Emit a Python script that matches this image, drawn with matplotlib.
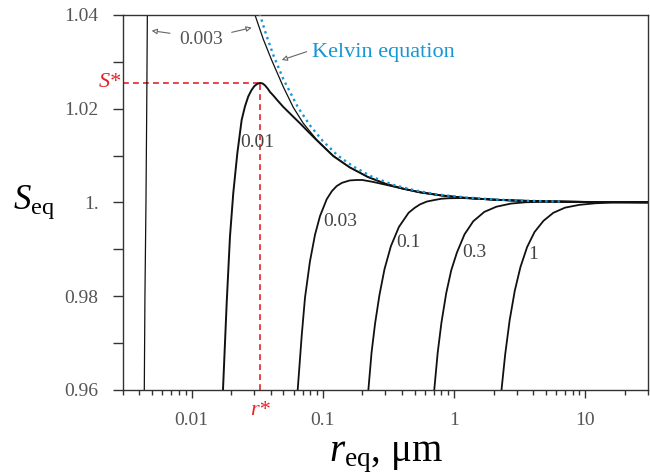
import matplotlib
matplotlib.use("Agg")
import matplotlib.pyplot as plt
from matplotlib.ticker import LogLocator, NullFormatter

plt.rcParams['font.family'] = 'Liberation Serif'
plt.rcParams['mathtext.fontset'] = 'custom'
plt.rcParams['mathtext.rm'] = 'Liberation Serif'
plt.rcParams['mathtext.it'] = 'Liberation Serif:italic'

# dry size 0.003 um - left (rising) branch
r_0003a = [0.00434, 0.00436, 0.00441, 0.00449, 0.00455, 0.00460, 0.00466]
s_0003a = [0.950, 0.960, 0.980, 1.000, 1.020, 1.040, 1.060]
# dry size 0.003 um - right branch (comes back in from the top)
r_0003b = [0.0290, 0.0304, 0.0352, 0.0407, 0.0499, 0.0595, 0.0709, 0.0897, 0.120, 0.160,
           0.220, 0.300, 0.400, 0.550, 0.800, 1.20, 2.0, 3.0, 5.0, 10.0, 30.0]
s_0003b = [1.0420, 1.0400, 1.0348, 1.0304, 1.0247, 1.0203, 1.0169, 1.0134, 1.0100, 1.0075,
           1.00545, 1.0040, 1.0030, 1.00218, 1.0015, 1.0010, 1.0006, 1.0004, 1.00024, 1.00012, 1.00004]
# 0.01 um
r_001 = [0.0170, 0.01734, 0.0185, 0.0196, 0.02077, 0.0223, 0.02406, 0.0255, 0.0270, 0.0285,
         0.0300, 0.0316, 0.0332, 0.0347, 0.0362, 0.0380, 0.0395, 0.0420, 0.0444, 0.0499,
         0.0580, 0.0669, 0.0780, 0.0897, 0.120, 0.160, 0.220, 0.300, 0.400, 0.550, 0.800,
         1.20, 2.0, 3.0, 5.0, 10.0, 30.0]
s_001 = [0.952, 0.960, 0.9785, 0.9927, 1.0020, 1.0105, 1.0176, 1.0205, 1.0226, 1.0239,
         1.0248, 1.0253, 1.0255, 1.0254, 1.0250, 1.0243, 1.0236, 1.0228, 1.0220, 1.0204,
         1.0186, 1.0169, 1.0150, 1.0133, 1.0099, 1.0075, 1.00545, 1.0040, 1.0030, 1.00218, 1.0015,
         1.0010, 1.0006, 1.0004, 1.00024, 1.00012, 1.00004]
# 0.03 um
r_003 = [0.0636, 0.0643, 0.0690, 0.0731, 0.0797, 0.0871, 0.0951, 0.107, 0.117, 0.1274,
         0.140, 0.160, 0.181, 0.200, 0.240, 0.300, 0.387, 0.550, 0.800, 1.20, 2.0, 3.0,
         5.0, 10.0, 30.0]
s_003 = [0.957, 0.960, 0.9716, 0.9797, 0.9874, 0.9931, 0.9971, 1.0007, 1.0024, 1.0035,
         1.0042, 1.0047, 1.0048, 1.0048, 1.0044, 1.0038, 1.0031, 1.00215, 1.0015, 1.0010,
         1.0006, 1.0004, 1.00024, 1.00012, 1.00004]
# 0.1 um
r_01 = [0.219, 0.222, 0.235, 0.250, 0.270, 0.295, 0.330, 0.380, 0.450, 0.500, 0.550, 0.620,
        0.700, 0.800, 0.900, 1.15, 1.50, 2.0, 3.0, 5.0, 10.0, 30.0]
s_01 = [0.9579, 0.9599, 0.9680, 0.9742, 0.9803, 0.9858, 0.9907, 0.9948, 0.9978, 0.99885,
        0.9996, 1.0002, 1.0005, 1.0008, 1.0009, 1.00095, 1.0008, 1.00062, 1.0004, 1.00024,
        1.00012, 1.00004]
# 0.3 um
r_03 = [0.700, 0.7057, 0.750, 0.800, 0.870, 0.950, 1.05, 1.20, 1.40, 1.70, 2.10, 2.70,
        3.50, 5.0, 8.0, 15.0, 30.0]
s_03 = [0.9589, 0.9600, 0.9680, 0.9743, 0.9806, 0.9855, 0.9893, 0.9932, 0.9960, 0.9980,
        0.9991, 0.99976, 1.00005, 1.00015, 1.00012, 1.00008, 1.00004]
# 1 um
r_1 = [2.28, 2.30, 2.45, 2.65, 2.90, 3.20, 3.60, 4.10, 4.80, 5.70, 7.0, 9.0, 12.0, 16.0, 22.0, 30.0]
s_1 = [0.9590, 0.9602, 0.9676, 0.9749, 0.9812, 0.9862, 0.9905, 0.9937, 0.9961, 0.9978,
       0.9989, 0.9995, 0.99984, 0.99997, 1.00001, 1.00002]
# Kelvin equation
r_kel = [0.0310, 0.0332, 0.0370, 0.0420, 0.0500, 0.0646, 0.0800, 0.100, 0.130, 0.170,
         0.240, 0.350, 0.500, 0.750, 1.20, 2.00, 3.50, 6.40]
s_kel = [1.0428, 1.0400, 1.0358, 1.0314, 1.0263, 1.0203, 1.0164, 1.0131, 1.0100, 1.0077,
         1.0054, 1.0037, 1.0026, 1.0017, 1.0011, 1.00065, 1.00037, 1.0002]

# critical point of the 0.01 um curve
r_star = 0.0332
s_star = 1.0255

xtick_vals = [0.01, 0.1, 1, 10]
xtick_labels = ['0.01', '0.1', '1', '10']
ytick_vals = [0.96, 0.98, 1.0, 1.02, 1.04]
ytick_labels = ['0.96', '0.98', '1.', '1.02', '1.04']
ytick_minor = [0.97, 0.99, 1.01, 1.03]

fig = plt.figure(figsize=(6.5, 4.76), dpi=100)
ax = fig.add_axes([0.1892, 0.1807, 0.8077, 0.7878])

black = '#111111'
ax.plot(r_0003a, s_0003a, color=black, lw=0.9)
ax.plot(r_0003b, s_0003b, color=black, lw=0.9)
ax.plot(r_001, s_001, color=black, lw=1.4)
ax.plot(r_003, s_003, color=black, lw=1.3)
ax.plot(r_01, s_01, color=black, lw=1.3)
ax.plot(r_03, s_03, color=black, lw=1.3)
ax.plot(r_1, s_1, color=black, lw=1.3)
ax.plot(r_kel, s_kel, color='#1497d4', lw=1.7, ls=(0, (1, 1.6)), zorder=3)

red = '#e52228'
ax.plot([0.003, r_star], [s_star, s_star], color=red, lw=1.2, ls=(0, (3.5, 2.5)), zorder=1)
ax.plot([r_star, r_star], [0.96, s_star], color=red, lw=1.2, ls=(0, (3.5, 2.5)), zorder=1)

ax.set_xscale('log')
ax.set_xlim(0.003, 30)
ax.set_ylim(0.96, 1.04)
ax.set_xticks(xtick_vals, xtick_labels)
ax.xaxis.set_minor_locator(LogLocator(base=10, subs=range(2, 10), numticks=20))
ax.xaxis.set_minor_formatter(NullFormatter())
ax.set_yticks(ytick_vals, ytick_labels)
ax.set_yticks(ytick_minor, minor=True)

for sp in ax.spines.values():
    sp.set_color('#333333')
    sp.set_linewidth(1.0)
ax.tick_params(which='both', direction='out', color='#333333', width=1.0,
               labelsize=14, labelcolor='#555555')
ax.tick_params(axis='y', which='both', length=7.2, pad=10.5)
ax.tick_params(axis='x', which='major', length=5.5, pad=10)
ax.tick_params(axis='x', which='minor', length=3.5)

# curve labels
lab = dict(fontsize=14, color='#444444', va='center', ha='left')
ax.text(0.02335, 1.0127, '0.01', **lab)
ax.text(0.1002, 0.99584, '0.03', **lab)
ax.text(0.3606, 0.99136, '0.1', **lab)
ax.text(1.148, 0.98923, '0.3', **lab)
ax.text(3.65, 0.9888, '1', **lab)
ax.text(0.01178, 1.03467, '0.003', fontsize=14, color='#555555', ha='center', va='center')

arr = dict(arrowstyle='-|>', ec='#666666', fc='white', lw=0.8, mutation_scale=8,
           shrinkA=0, shrinkB=0)
ax.annotate('', xy=(0.00496, 1.03665), xytext=(0.00684, 1.0361), arrowprops=arr)
ax.annotate('', xy=(0.02868, 1.0373), xytext=(0.0202, 1.0363), arrowprops=arr)
ax.annotate('', xy=(0.0486, 1.0304), xytext=(0.0752, 1.03217), arrowprops=arr)
ax.text(0.0826, 1.0319, 'Kelvin equation', fontsize=16, color='#1497d4', ha='left', va='center')

ax.text(0.0029, s_star, 'S*', fontsize=16, style='italic', color=red, ha='right', va='center',
        clip_on=False)
ax.text(r_star, 0.9557, 'r*', fontsize=16, style='italic', color=red, ha='center', va='center',
        clip_on=False)

ax.set_xlabel(r'$r_{\mathrm{eq}}$, μm', fontsize=28, labelpad=7)
ax.set_ylabel(r'$S_{\mathrm{eq}}$', fontsize=25, rotation=0, ha='center', va='center')
ax.yaxis.set_label_coords(-0.17, 0.5)

fig.savefig('out.png', dpi=100)
